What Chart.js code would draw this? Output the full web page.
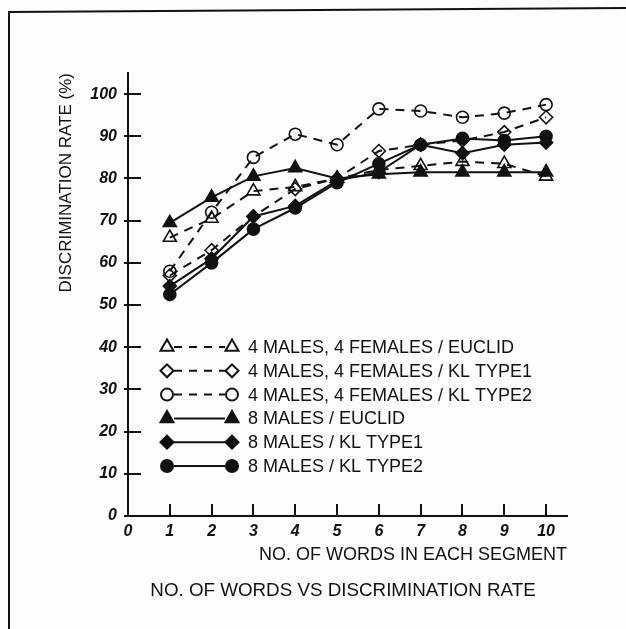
<!DOCTYPE html>
<html>
<head>
<meta charset="utf-8">
<script src="https://cdn.jsdelivr.net/npm/chart.js@4.4.1/dist/chart.umd.min.js"></script>
<style>
  html, body { margin: 0; padding: 0; background: #fdfdfd; }
  #wrap { position: relative; width: 626px; height: 629px; }
</style>
</head>
<body>
<div id="wrap"><canvas id="chart" width="626" height="629"></canvas></div>
<script>
// words per segment (x)
const words = [1, 2, 3, 4, 5, 6, 7, 8, 9, 10];

// discrimination rate (%)
const mixEuclid = [66, 70.5, 77, 78, 80, 82, 83, 84, 83.5, 80.5];
const mixKl1    = [57, 63, 71, 77.5, 80, 86.5, 88, 89, 91, 94.5];
const mixKl2    = [58, 72, 85, 90.5, 88, 96.5, 96, 94.5, 95.5, 97.5];
const maleEuclid = [69.5, 75.5, 80.5, 82.5, 80, 81, 81.5, 81.5, 81.5, 81.5];
const maleKl1    = [54.5, 61, 71, 73.5, 79.5, 81.5, 88, 86, 88, 88.5];
const maleKl2    = [52.5, 60, 68, 73, 79, 83.5, 88, 89.5, 89, 90];

const seriesLabels = [
  '4 MALES, 4 FEMALES / EUCLID',
  '4 MALES, 4 FEMALES / KL TYPE1',
  '4 MALES, 4 FEMALES / KL TYPE2',
  '8 MALES / EUCLID',
  '8 MALES / KL TYPE1',
  '8 MALES / KL TYPE2'
];

const xTicks = [0, 1, 2, 3, 4, 5, 6, 7, 8, 9, 10];
const yTicks = [0, 10, 20, 30, 40, 50, 60, 70, 80, 90, 100];

const INK = '#111';
const FONT = "'Liberation Sans', Arial, sans-serif";

const toPoints = ys => ys.map((y, i) => ({ x: words[i], y: y }));

function series(label, ys, style, filled, dashed) {
  return {
    label: label,
    data: toPoints(ys),
    borderColor: INK,
    borderWidth: 2,
    borderDash: dashed ? [9, 7] : [],
    pointStyle: style,
    pointRadius: style === 'triangle' ? 7.5 : (style === 'circle' ? 6 : 6.5),
    pointBorderWidth: 1.6,
    pointBorderColor: INK,
    pointBackgroundColor: filled ? INK : 'rgba(0,0,0,0)',
    tension: 0,
    fill: false
  };
}

const datasets = [
  series(seriesLabels[0], mixEuclid, 'triangle', false, true),
  series(seriesLabels[1], mixKl1, 'rectRot', false, true),
  series(seriesLabels[2], mixKl2, 'circle', false, true),
  series(seriesLabels[3], maleEuclid, 'triangle', true, false),
  series(seriesLabels[4], maleKl1, 'rectRot', true, false),
  series(seriesLabels[5], maleKl2, 'circle', true, false)
];

// frame, inner tick marks, caption and the line-sample legend
const decorations = {
  id: 'decorations',
  beforeDraw(chart) {
    const ctx = chart.ctx;
    ctx.save();
    ctx.fillStyle = '#fdfdfd';
    ctx.fillRect(0, 0, chart.width, chart.height);
    ctx.strokeStyle = INK;
    ctx.lineWidth = 2;
    ctx.beginPath();
    ctx.moveTo(9, chart.height);
    ctx.lineTo(9, 12);
    ctx.lineTo(chart.width, 8);
    ctx.stroke();
    ctx.restore();
  },
  afterDraw(chart) {
    const ctx = chart.ctx;
    const xs = chart.scales.x, ys = chart.scales.y;
    const area = chart.chartArea;
    ctx.save();
    ctx.strokeStyle = INK;
    ctx.lineWidth = 2;
    ctx.beginPath();
    yTicks.forEach(v => {
      const py = Math.round(ys.getPixelForValue(v));
      ctx.moveTo(area.left - 4, py);
      ctx.lineTo(area.left + 13, py);
    });
    xTicks.forEach(v => {
      const px = Math.round(xs.getPixelForValue(v));
      ctx.moveTo(px, area.bottom);
      ctx.lineTo(px, area.bottom - 12);
    });
    ctx.stroke();

    // caption under the axis title
    ctx.fillStyle = INK;
    ctx.font = '18.8px ' + FONT;
    ctx.textAlign = 'center';
    ctx.textBaseline = 'middle';
    ctx.fillText('NO. OF WORDS VS DISCRIMINATION RATE', 343, 591);

    // legend: marker - line - marker, then label
    ctx.font = '18px ' + FONT;
    ctx.textAlign = 'left';
    chart.data.datasets.forEach((ds, i) => {
      const y = 347 + i * 23.8;
      const x0 = 167, x1 = 232;
      ctx.lineWidth = 2;
      ctx.setLineDash(ds.borderDash.length ? [8, 7] : []);
      ctx.beginPath();
      ctx.moveTo(x0 + 7, y);
      ctx.lineTo(x1 - 7, y);
      ctx.stroke();
      ctx.setLineDash([]);
      ctx.fillStyle = ds.pointBackgroundColor;
      ctx.strokeStyle = INK;
      const opts = { pointStyle: ds.pointStyle, radius: ds.pointRadius, rotation: 0, borderWidth: ds.pointBorderWidth };
      Chart.helpers.drawPoint(ctx, opts, x0, y);
      Chart.helpers.drawPoint(ctx, opts, x1, y);
      ctx.fillStyle = INK;
      ctx.fillText(ds.label, 248, y + 1);
    });
    ctx.restore();
  }
};

new Chart(document.getElementById('chart'), {
  type: 'line',
  data: { datasets: datasets },
  plugins: [decorations],
  options: {
    responsive: false,
    animation: false,
    layout: { padding: { left: 0, right: 59, top: 73, bottom: 53 } },
    plugins: {
      legend: { display: false },
      tooltip: { enabled: false }
    },
    scales: {
      x: {
        type: 'linear',
        min: 0,
        max: 10.5,
        afterBuildTicks: s => { s.ticks = xTicks.map(v => ({ value: v })); },
        afterFit: s => { s.height = 60; },
        grid: { display: false, drawTicks: false },
        border: { display: true, color: INK, width: 2 },
        ticks: {
          color: INK,
          padding: 6,
          maxRotation: 0,
          autoSkip: false,
          font: { family: FONT, size: 16, weight: 'bold', style: 'italic' }
        },
        title: {
          display: true,
          text: 'NO. OF WORDS IN EACH SEGMENT',
          align: 'end',
          color: INK,
          padding: { top: 0, bottom: 10 },
          font: { family: FONT, size: 18 }
        }
      },
      y: {
        type: 'linear',
        min: 0,
        max: 105,
        afterBuildTicks: s => { s.ticks = yTicks.map(v => ({ value: v })); },
        afterFit: s => { s.width = 128; },
        grid: { display: false, drawTicks: false },
        border: { display: true, color: INK, width: 2 },
        ticks: {
          color: INK,
          padding: 11,
          autoSkip: false,
          font: { family: FONT, size: 16, weight: 'bold', style: 'italic' }
        },
        title: {
          display: true,
          text: 'DISCRIMINATION RATE (%)',
          align: 'end',
          color: INK,
          padding: { top: 56, bottom: 0 },
          font: { family: FONT, size: 17 }
        }
      }
    }
  }
});
</script>
</body>
</html>
